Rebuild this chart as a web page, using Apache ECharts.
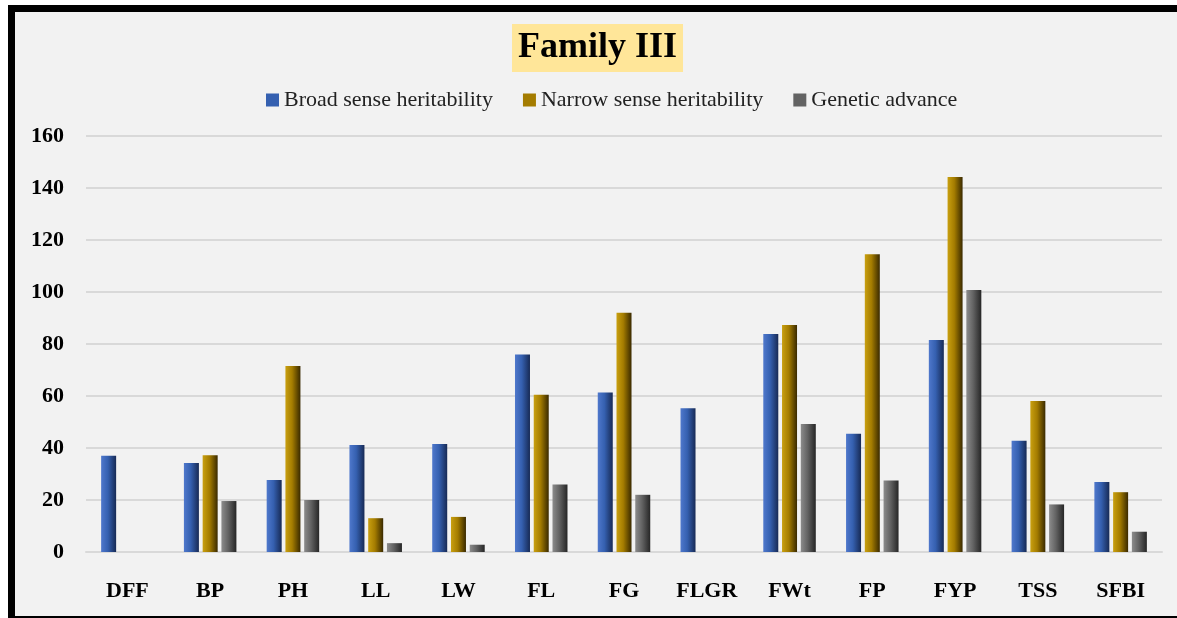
<!DOCTYPE html>
<html><head><meta charset="utf-8">
<script src="https://cdn.jsdelivr.net/npm/echarts@6/dist/echarts.min.js"></script>
<style>html,body{margin:0;padding:0;background:#fff}#c{width:1177px;height:618px}</style>
</head><body><div id="c"></div>
<script>
const categories = ['DFF','BP','PH','LL','LW','FL','FG','FLGR','FWt','FP','FYP','TSS','SFBI'];
const broadSense = [37, 34.2, 27.7, 41.2, 41.5, 76, 61.3, 55.3, 83.8, 45.5, 81.5, 42.8, 26.9];
const narrowSense = [null, 37.2, 71.5, 13, 13.5, 60.5, 92, null, 87.3, 114.5, 144.2, 58.1, 23];
const geneticAdvance = [null, 19.6, 20, 3.4, 2.8, 26, 22, null, 49.2, 27.5, 100.8, 18.3, 7.8];
const seriesNames = ['Broad sense heritability','Narrow sense heritability','Genetic advance'];

function grad(a,b,c){
  return new echarts.graphic.LinearGradient(0,0,1,0,[
    {offset:0,color:a},{offset:0.45,color:b},{offset:1,color:c}]);
}
const styles = [
  grad('#4f78cc','#3560b0','#172a55'),
  grad('#c9a010','#a47c00','#3a2a00'),
  grad('#8c8c8c','#636363','#262626')
];
const legendColors = ['#3560b0','#a47c00','#636363'];
const serif = '"Liberation Serif","Times New Roman",serif';
const chart = echarts.init(document.getElementById('c'));
const dataSets = [broadSense, narrowSense, geneticAdvance];
chart.setOption({
  backgroundColor:'#ffffff',
  animation:false,
  graphic:[{type:'rect',z:-10,shape:{x:11.5,y:8.5,width:1200,height:611},
    style:{fill:'#f2f2f2',stroke:'#000',lineWidth:7}}],
  title:{text:'Family III',left:512,top:24,
    backgroundColor:'#ffe699',padding:[6,6,6,6],
    textStyle:{fontFamily:serif,fontSize:36,fontWeight:'bold',color:'#000'}},
  legend:{top:84,left:261,itemWidth:13,itemHeight:13,itemGap:30,
    icon:'rect',
    textStyle:{fontFamily:serif,fontSize:22,color:'#222'},
    data:seriesNames.map((n,i)=>({name:n,itemStyle:{color:legendColors[i]}}))},
  grid:{left:86,right:15,top:136,bottom:66},
  xAxis:{type:'category',data:categories,
    axisLine:{lineStyle:{color:'#d9d9d9',width:2}},axisTick:{show:false},
    axisLabel:{fontFamily:serif,fontSize:22,fontWeight:'bold',color:'#000',margin:28}},
  yAxis:{type:'value',min:0,max:160,interval:20,
    axisLine:{show:false},axisTick:{show:false},
    splitLine:{lineStyle:{color:'#d9d9d9',width:2}},
    axisLabel:{fontFamily:serif,fontSize:22,fontWeight:'bold',color:'#000',margin:22}},
  series:dataSets.map((d,i)=>({
    name:seriesNames[i],type:'bar',data:d,barWidth:15,barGap:'25%',
    itemStyle:{color:styles[i]}
  }))
});
</script></body></html>
